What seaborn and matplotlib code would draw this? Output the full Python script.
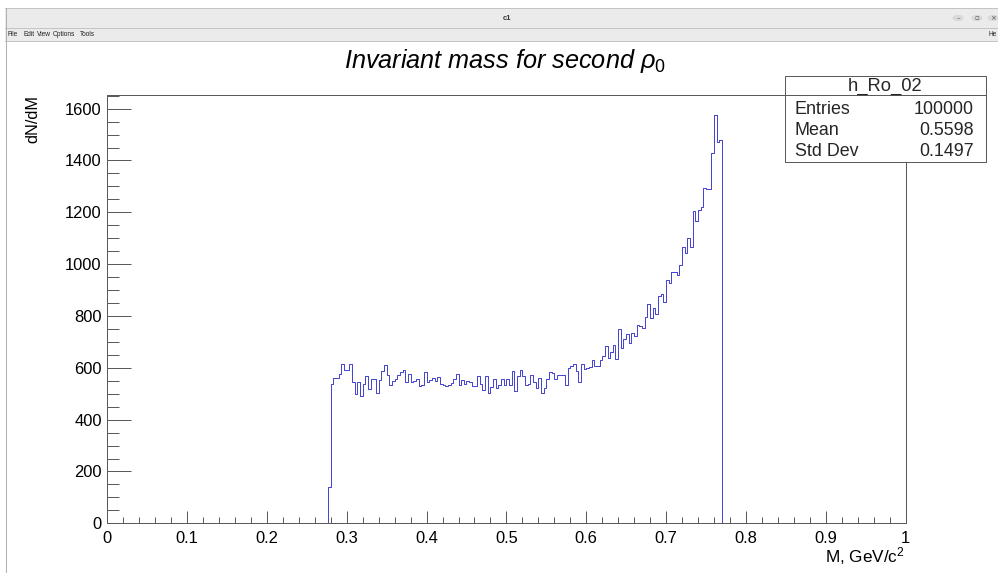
import numpy as np
import pandas as pd
import matplotlib
matplotlib.use("Agg")
import matplotlib.pyplot as plt
from matplotlib.patches import Rectangle, Circle
from matplotlib.lines import Line2D
from matplotlib.ticker import MultipleLocator
import seaborn as sns

# ---- histogram data: 300 bins over [0, 1] GeV/c^2 ----
n_bins = 300
mass_range = (0.0, 1.0)
first_filled_bin = 83
filled_counts = [
    140,
    536, 561, 561, 575, 615, 590, 590, 615, 547, 500,
    547, 491, 538, 570, 520, 556, 556, 502, 553, 588,
    609, 573, 532, 551, 555, 572, 582, 593, 547, 578,
    547, 550, 555, 529, 532, 585, 547, 552, 562, 550,
    565, 538, 535, 530, 532, 542, 556, 577, 535, 552,
    538, 551, 547, 530, 530, 570, 538, 514, 570, 503,
    527, 557, 523, 535, 555, 532, 555, 532, 588, 510,
    570, 591, 570, 535, 538, 574, 545, 523, 560, 503,
    523, 555, 585, 581, 557, 571, 571, 574, 535, 600,
    606, 613, 588, 545, 613, 597, 600, 604, 630, 606,
    606, 630, 645, 686, 636, 662, 688, 634, 748, 678,
    710, 729, 696, 735, 722, 767, 763, 755, 797, 848,
    794, 829, 809, 879, 883, 855, 938, 928, 968, 968,
    957, 996, 1067, 1044, 1102, 1067, 1205, 1166, 1210, 1220,
    1295, 1289, 1289, 1430, 1574, 1472, 1478,
]

hist_name = "h_Ro_02"
stats_labels = ["Entries", "Mean", "Std Dev"]
stats_values = ["100000", "0.5598", "0.1497"]

x_ticks = [0.0, 0.1, 0.2, 0.3, 0.4, 0.5, 0.6, 0.7, 0.8, 0.9, 1.0]
x_tick_labels = ["0", "0.1", "0.2", "0.3", "0.4", "0.5", "0.6", "0.7", "0.8", "0.9", "1"]
y_ticks = [0, 200, 400, 600, 800, 1000, 1200, 1400, 1600]
y_tick_labels = ["0", "200", "400", "600", "800", "1000", "1200", "1400", "1600"]

menu_items = ["File", "Edit", "View", "Options", "Tools"]

# ---- figure setup ----
W, H = 998, 573
sns.set_theme(style="white")
plt.rcParams["font.family"] = ["Liberation Sans", "DejaVu Sans"]
plt.rcParams["mathtext.fontset"] = "custom"
plt.rcParams["mathtext.rm"] = "Liberation Sans"
plt.rcParams["mathtext.it"] = "Liberation Sans:italic"
plt.rcParams["mathtext.sf"] = "Liberation Sans"

fig = plt.figure(figsize=(W / 100, H / 100), dpi=100)
fig.patch.set_facecolor("white")


def fx(px):
    return px / W


def fy(py):
    return 1 - py / H


PX = 0.72  # one pixel in points
FRAME = "#5a5a5a"

# ---- window chrome ----
chrome_bg = "#ebebeb"
chrome_line = "#c4c4c4"
fig.add_artist(Rectangle((fx(5), fy(41)), fx(W - 5), (41 - 8) / H,
                         transform=fig.transFigure, facecolor=chrome_bg,
                         edgecolor="none", zorder=0))
for yy in (8, 28, 41):
    fig.add_artist(Line2D([fx(5), 1], [fy(yy), fy(yy)], transform=fig.transFigure,
                          color=chrome_line, lw=PX, zorder=1))
fig.add_artist(Line2D([fx(6), fx(6)], [fy(8), 0], transform=fig.transFigure,
                      color="#b0b0b0", lw=PX, zorder=1))
fig.text(fx(507), fy(18), "c1", ha="center", va="center", fontsize=5.5,
         fontweight="bold", color="#333333")
menu_x = [7, 23, 37, 53, 80]
for mx, name in zip(menu_x, menu_items):
    fig.text(fx(mx), fy(35), name, ha="left", va="center", fontsize=4.7, color="#222222")
fig.text(fx(997), fy(35), "He", ha="right", va="center", fontsize=4.7, color="#222222")
for bx, sym in zip((958, 977, 993), ("–", "▫", "×")):
    fig.add_artist(Circle((fx(bx), fy(18)), 5.5 / W, transform=fig.transFigure,
                          facecolor="#d9d9d9", edgecolor="none", zorder=1))
    fig.text(fx(bx), fy(18), sym, ha="center", va="center", fontsize=5,
             color="#555555", family="DejaVu Sans")

# ---- histogram frame ----
left, right, top, bottom = 107.3, 905.5, 95.0, 523.3
ax = fig.add_axes([fx(left), fy(bottom), (right - left) / W, (bottom - top) / H])

bin_width = (mass_range[1] - mass_range[0]) / n_bins
centers = mass_range[0] + (np.arange(n_bins) + 0.5) * bin_width
counts = np.zeros(n_bins)
counts[first_filled_bin:first_filled_bin + len(filled_counts)] = filled_counts
df = pd.DataFrame({"M": centers, "dNdM": counts})

sns.histplot(data=df, x="M", weights="dNdM", bins=n_bins, binrange=mass_range,
             element="step", fill=False, color="#4646d2", linewidth=PX, ax=ax)

ax.set_xlim(*mass_range)
ax.set_ylim(0, 1.05 * max(filled_counts))
ax.set_xlabel("")
ax.set_ylabel("")
ax.set_facecolor("white")

ax.set_xticks(x_ticks)
ax.set_xticklabels(x_tick_labels)
ax.set_yticks(y_ticks)
ax.set_yticklabels(y_tick_labels)
ax.xaxis.set_minor_locator(MultipleLocator(0.02))
ax.yaxis.set_minor_locator(MultipleLocator(50))
ax.tick_params(axis="x", which="major", direction="in", length=12.5 * PX, width=PX,
               color=FRAME, pad=5.5, labelsize=11.9, labelcolor="black",
               bottom=True, top=False)
ax.tick_params(axis="x", which="minor", direction="in", length=6 * PX, width=PX,
               color=FRAME, bottom=True, top=False)
ax.tick_params(axis="y", which="major", direction="in", length=24 * PX, width=PX,
               color=FRAME, pad=4, labelsize=11.9, labelcolor="black",
               left=True, right=False)
ax.tick_params(axis="y", which="minor", direction="in", length=12 * PX, width=PX,
               color=FRAME, left=True, right=False)
for sp in ax.spines.values():
    sp.set_visible(True)
    sp.set_color(FRAME)
    sp.set_linewidth(PX)
    sp.set_zorder(3)

# ---- titles ----
fig.text(fx(505), fy(61), r"Invariant mass for second $\rho_0$", ha="center",
         va="center", fontsize=18.2, style="italic", color="black")
fig.text(fx(33), fy(95), "dN/dM", rotation=90, ha="center", va="top",
         fontsize=11.7, color="black")
fig.text(fx(905), fy(556), r"M, GeV/c$^{2}$", ha="right", va="center",
         fontsize=12.3, color="black")

# ---- statistics box ----
bx0, bx1, by0, by1 = 785, 985.5, 76, 161.7
fig.add_artist(Rectangle((fx(bx0), fy(by1)), (bx1 - bx0) / W, (by1 - by0) / H,
                         transform=fig.transFigure, facecolor="white",
                         edgecolor=FRAME, lw=PX, zorder=5))
fig.add_artist(Line2D([fx(bx0), fx(bx1)], [fy(95), fy(95)], transform=fig.transFigure,
                      color=FRAME, lw=PX, zorder=6))
fig.text(fx(885), fy(86), hist_name, ha="center", va="center",
         fontsize=13.2, zorder=7)
for i, (lab, val) in enumerate(zip(stats_labels, stats_values)):
    yy = 109.5 + i * 21.1
    fig.text(fx(795), fy(yy), lab, ha="left", va="center", fontsize=12.9, zorder=7)
    fig.text(fx(973.5), fy(yy), val, ha="right", va="center", fontsize=12.9, zorder=7)

fig.savefig("out.png", dpi=100)
